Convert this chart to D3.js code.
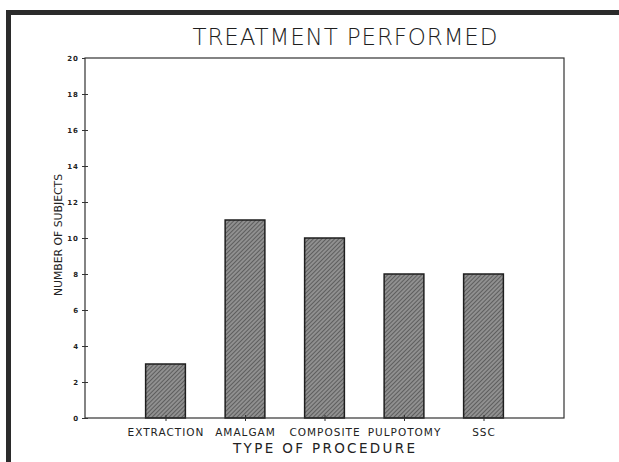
<!DOCTYPE html>
<html>
<head>
<meta charset="utf-8">
<script src="https://cdn.jsdelivr.net/npm/d3@7"></script>
<style>
  body { margin: 0; background: #fff; }
  svg { display: block; }
</style>
</head>
<body>
<div id="plotarea"></div>
<script>
// data
var procedures = ["EXTRACTION", "AMALGAM", "COMPOSITE", "PULPOTOMY", "SSC"];
var subjects = [3, 11, 10, 8, 8];
var yTicks = [0, 2, 4, 6, 8, 10, 12, 14, 16, 18, 20];

function drawBarChart() {
    var width = 619, height = 462;
    var ink = "#333";

    var svg = d3.select("#plotarea").append("svg")
                .attr("width", width)
                .attr("height", height);

    // hatch fill for the bars
    var defs = svg.append("defs");
    var pat = defs.append("pattern")
                  .attr("id", "hatch")
                  .attr("patternUnits", "userSpaceOnUse")
                  .attr("width", 3).attr("height", 3)
                  .attr("patternTransform", "rotate(45)");
    pat.append("rect").attr("width", 3).attr("height", 3).attr("fill", "#909090");
    pat.append("line").attr("x1", 0).attr("y1", 0).attr("x2", 0).attr("y2", 3)
       .attr("stroke", "#3c3c3c").attr("stroke-width", 1.2);

    // photo frame (top and left edges)
    svg.append("rect").attr("x", 6).attr("y", 10).attr("width", width - 6).attr("height", 5).attr("fill", "#2b2b2b");
    svg.append("rect").attr("x", 6).attr("y", 10).attr("width", 5).attr("height", height - 10).attr("fill", "#2b2b2b");

    var left = 85, right = 564, top = 58, bottom = 418;

    var xScale = d3.scalePoint().domain(procedures).range([86, 563]).padding(1);
    var yScale = d3.scaleLinear().domain([0, 20]).range([bottom, top]);
    var barWidth = xScale.step() * 0.5;

    // title
    svg.append("text")
       .attr("x", 345).attr("y", 45)
       .attr("text-anchor", "middle")
       .attr("font-family", "'DejaVu Sans', sans-serif")
       .attr("font-weight", 300)
       .attr("font-size", 23)
       .attr("textLength", 305)
       .attr("lengthAdjust", "spacing")
       .attr("fill", "#1e1e1e")
       .text("TREATMENT PERFORMED");

    // bars
    svg.append("g").attr("class", "bars")
       .selectAll("rect")
       .data(procedures)
       .enter()
       .append("rect")
       .attr("x", function(d){ return xScale(d) - barWidth / 2; })
       .attr("y", function(d, i){ return yScale(subjects[i]); })
       .attr("width", barWidth)
       .attr("height", function(d, i){ return bottom - yScale(subjects[i]); })
       .attr("fill", "url(#hatch)")
       .attr("stroke", "#1e1e1e")
       .attr("stroke-width", 1.5);

    // plot box
    svg.append("rect")
       .attr("x", left).attr("y", top)
       .attr("width", right - left).attr("height", bottom - top)
       .attr("fill", "none")
       .attr("stroke", ink)
       .attr("stroke-width", 1.2);

    // y axis
    var yAxis = svg.append("g")
                   .attr("transform", "translate(" + left + ",0)")
                   .call(d3.axisLeft(yScale).tickValues(yTicks).tickSize(3).tickPadding(3));
    yAxis.select(".domain").remove();
    yAxis.selectAll(".tick line")
         .attr("x1", function(d){ return d === 20 ? 0 : 3; })
         .attr("stroke", ink);
    yAxis.selectAll(".tick text")
         .attr("font-family", "'DejaVu Sans', sans-serif")
         .attr("font-weight", "bold")
         .attr("font-size", 7)
         .attr("letter-spacing", 1)
         .attr("fill", "#222");

    // x axis
    var xAxis = svg.append("g")
                   .attr("transform", "translate(0," + bottom + ")")
                   .call(d3.axisBottom(xScale).tickSize(3).tickPadding(8));
    xAxis.select(".domain").remove();
    xAxis.selectAll(".tick line").attr("y1", -3).attr("stroke", ink);
    xAxis.selectAll(".tick text")
         .attr("font-family", "'DejaVu Sans', sans-serif")
         .attr("font-size", 10.5)
         .attr("letter-spacing", 1)
         .attr("fill", "#222");

    // axis titles
    svg.append("text")
       .attr("x", 324).attr("y", 453)
       .attr("text-anchor", "middle")
       .attr("font-family", "'DejaVu Sans', sans-serif")
       .attr("font-size", 13.5)
       .attr("textLength", 182)
       .attr("lengthAdjust", "spacing")
       .attr("fill", "#222")
       .text("TYPE OF PROCEDURE");

    svg.append("text")
       .attr("transform", "translate(62,235) rotate(-90)")
       .attr("text-anchor", "middle")
       .attr("font-family", "'DejaVu Sans', sans-serif")
       .attr("font-size", 11)
       .attr("textLength", 122)
       .attr("lengthAdjust", "spacingAndGlyphs")
       .attr("fill", "#222")
       .text("NUMBER OF SUBJECTS");
}

drawBarChart();
</script>
</body>
</html>
